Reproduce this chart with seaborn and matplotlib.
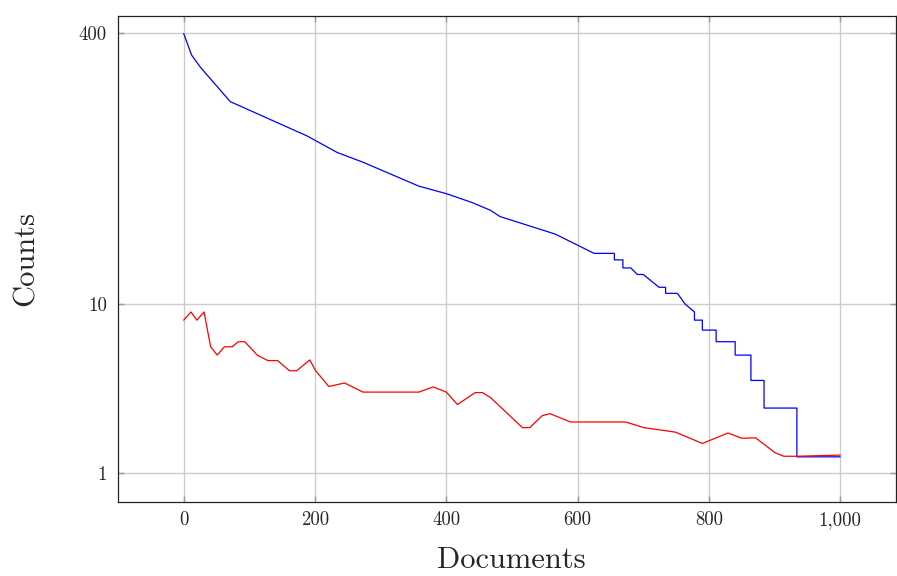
import matplotlib
matplotlib.use("Agg")
import matplotlib.pyplot as plt
import seaborn as sns
import pandas as pd
from matplotlib.ticker import FixedLocator, FixedFormatter, NullLocator

# Upper curve (blue): ranked document counts, with the stair-step tail
blue_x = [0, 12, 26, 71, 188, 234, 274, 358, 401, 439, 467, 482, 566, 625,
          656, 656, 669, 669, 681, 691, 700, 724, 734, 734, 752, 764, 778,
          778, 790, 790, 811, 811, 840, 840, 864, 864, 884, 884, 934, 934, 1000]
blue_y = [400, 298, 251, 158, 99, 79, 69, 50, 45, 40, 36, 33, 26, 20,
          20, 18.3, 18.3, 16.4, 16.4, 15, 15, 12.6, 12.6, 11.6, 11.6, 10, 9,
          8.05, 8.05, 7.03, 7.03, 6.0, 6.0, 5.0, 5.0, 3.54, 3.54, 2.43, 2.43, 1.25, 1.25]

# Lower curve (red)
red_x = [0, 11, 20, 31, 41, 51, 62, 74, 83, 93, 112, 128, 143, 161, 172, 192,
         201, 221, 245, 273, 358, 380, 400, 417, 444, 455, 467, 516, 527, 546,
         558, 589, 673, 701, 749, 790, 829, 850, 871, 901, 914, 934, 1000]
red_y = [8.05, 9.0, 8.05, 9.0, 5.6, 5.0, 5.6, 5.6, 6.0, 6.0, 5.0, 4.64, 4.64,
         4.04, 4.04, 4.68, 4.04, 3.26, 3.42, 3.02, 3.02, 3.24, 3.02, 2.55, 3.0,
         3.0, 2.81, 1.86, 1.86, 2.19, 2.25, 2.01, 2.01, 1.86, 1.75, 1.5, 1.73,
         1.61, 1.62, 1.32, 1.26, 1.26, 1.28]

x_ticks = [0, 200, 400, 600, 800, 1000]
x_tick_labels = ["0", "200", "400", "600", "800", "1,000"]
y_ticks = [1, 10, 400]
y_tick_labels = ["1", "10", "400"]

sns.set_style("white")
plt.rcParams["font.family"] = ["cmr10", "DejaVu Serif"]
plt.rcParams["mathtext.fontset"] = "cm"
plt.rcParams["axes.formatter.use_mathtext"] = True

fig = plt.figure(figsize=(8.97, 5.76), dpi=100)
ax = fig.add_axes([0.1316, 0.1293, 0.8673, 0.843])

blue_df = pd.DataFrame({"Documents": blue_x, "Counts": blue_y})
red_df = pd.DataFrame({"Documents": red_x, "Counts": red_y})

sns.lineplot(data=blue_df, x="Documents", y="Counts", ax=ax, color="#0000ff",
             linewidth=0.9, sort=False, estimator=None, zorder=3)
sns.lineplot(data=red_df, x="Documents", y="Counts", ax=ax, color="#ff0000",
             linewidth=0.9, sort=False, estimator=None, zorder=3)

ax.set_yscale("log")
ax.set_xlim(-100, 1085)
ax.set_ylim(0.68, 508)

ax.xaxis.set_major_locator(FixedLocator(x_ticks))
ax.xaxis.set_major_formatter(FixedFormatter(x_tick_labels))
ax.yaxis.set_major_locator(FixedLocator(y_ticks))
ax.yaxis.set_major_formatter(FixedFormatter(y_tick_labels))
ax.yaxis.set_minor_locator(NullLocator())
ax.xaxis.set_minor_locator(NullLocator())

ax.grid(True, color="#cccccc", linewidth=1.0, zorder=0)
ax.set_axisbelow(True)
ax.tick_params(axis="both", which="major", direction="in", length=4,
               width=1.0, color="#999999", labelsize=13.5,
               top=True, right=True, bottom=True, left=True)
ax.tick_params(axis="y", pad=8)
ax.tick_params(axis="x", pad=7)

for side in ["left", "right", "top", "bottom"]:
    ax.spines[side].set_color("#222222")
    ax.spines[side].set_linewidth(0.9)
    ax.spines[side].set_visible(True)

ax.set_xlabel("Documents", fontsize=22)
ax.set_ylabel("Counts", fontsize=22)
ax.xaxis.set_label_coords(0.506, -0.092)
ax.yaxis.set_label_coords(-0.101, 0.5)

fig.savefig("out.png", dpi=100)
